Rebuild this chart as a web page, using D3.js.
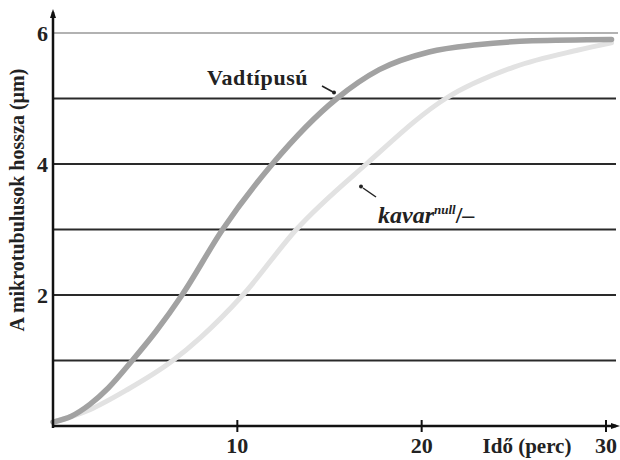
<!DOCTYPE html>
<html>
<head>
<meta charset="utf-8">
<script src="https://cdn.jsdelivr.net/npm/d3@7"></script>
<style>
  body { margin: 0; background: #fff; }
  svg { display: block; font-family: "Liberation Serif", "DejaVu Serif", serif; }
</style>
</head>
<body>
<svg id="chart" width="620" height="460"></svg>
<script>
// time (perc) and microtubule length (µm)
const wildTime  = [0, 1, 2, 3, 4.3, 5.6, 7, 9.2, 11.9, 15.4, 17.7, 20.4, 23, 26, 30.3];
const wildValue = [0.06, 0.15, 0.33, 0.58, 1.0, 1.45, 2.0, 3.0, 4.0, 5.0, 5.44, 5.71, 5.82, 5.88, 5.9];
const kavarTime  = [0, 2, 4, 6.5, 8, 10.3, 13.2, 17, 21.3, 25, 28.5, 30.3];
const kavarValue = [0.06, 0.25, 0.55, 1.0, 1.35, 2.0, 3.0, 4.0, 5.0, 5.48, 5.74, 5.85];
const gridValues = [1, 2, 3, 4, 5, 6];
const yTicks = [2, 4, 6];
const xTicks = [10, 20, 30];

const svg = d3.select('#chart');
const x0 = 53, x1 = 616, yBottom = 426;

const x = d3.scaleLinear().domain([0, 30]).range([x0, 606]);
const y = d3.scaleLinear().domain([0, 6]).range([yBottom, 33]);

// horizontal gridlines
svg.append('g').selectAll('line')
  .data(gridValues)
  .enter().append('line')
  .attr('x1', x0).attr('x2', d => d === 6 ? 618 : x1)
  .attr('y1', d => y(d)).attr('y2', d => y(d))
  .attr('stroke', d => d === 6 ? '#999' : '#2a2a2a')
  .attr('stroke-width', d => d === 6 ? 1.5 : 2);

const line = d3.line().curve(d3.curveMonotoneX);

// kavar null/- curve (light)
svg.append('path')
  .attr('d', line(kavarTime.map((t, i) => [x(t), y(kavarValue[i])])))
  .attr('fill', 'none')
  .attr('stroke', '#e2e2e2')
  .attr('stroke-width', 5)
  .attr('stroke-linecap', 'round');

// wild type curve (darker)
svg.append('path')
  .attr('d', line(wildTime.map((t, i) => [x(t), y(wildValue[i])])))
  .attr('fill', 'none')
  .attr('stroke', '#a2a2a2')
  .attr('stroke-width', 5.5)
  .attr('stroke-linecap', 'round');

// axes
svg.append('line')
  .attr('x1', x0).attr('x2', x0).attr('y1', 12).attr('y2', yBottom + 2)
  .attr('stroke', '#111').attr('stroke-width', 2.5);
svg.append('path')
  .attr('d', `M${x0 - 3},${18} L${x0},${9} L${x0 + 3},${18} Z`)
  .attr('fill', '#111');
svg.append('line')
  .attr('x1', x0 - 1).attr('x2', 616).attr('y1', yBottom).attr('y2', yBottom)
  .attr('stroke', '#111').attr('stroke-width', 2.5);
svg.append('path')
  .attr('d', `M${611},${yBottom - 3} L${620},${yBottom} L${611},${yBottom + 3} Z`)
  .attr('fill', '#111');

// x ticks
svg.append('g').selectAll('line')
  .data(xTicks)
  .enter().append('line')
  .attr('x1', d => x(d)).attr('x2', d => x(d))
  .attr('y1', yBottom - 6).attr('y2', yBottom + 6)
  .attr('stroke', '#111').attr('stroke-width', 2);

svg.append('g').selectAll('text')
  .data(xTicks)
  .enter().append('text')
  .attr('x', d => x(d)).attr('y', 453)
  .attr('text-anchor', 'middle')
  .attr('font-size', 22).attr('font-weight', 'bold').attr('fill', '#222')
  .text(d => d);

svg.append('text')
  .attr('x', 527).attr('y', 453)
  .attr('text-anchor', 'middle')
  .attr('font-size', 21).attr('font-weight', 'bold').attr('fill', '#222')
  .text('Idő (perc)');

// y tick labels
svg.append('g').selectAll('text')
  .data(yTicks)
  .enter().append('text')
  .attr('x', 48).attr('y', d => y(d) + 8)
  .attr('text-anchor', 'end')
  .attr('font-size', 22).attr('font-weight', 'bold').attr('fill', '#222')
  .text(d => d);

svg.append('text')
  .attr('transform', 'translate(24,200) rotate(-90)')
  .attr('text-anchor', 'middle')
  .attr('font-size', 20).attr('font-weight', 'bold').attr('fill', '#222')
  .text('A mikrotubulusok hossza (µm)');

// annotations
svg.append('text')
  .attr('x', 207).attr('y', 85)
  .attr('font-size', 22).attr('font-weight', 'bold').attr('fill', '#222')
  .attr('letter-spacing', 0.6)
  .text('Vadtípusú');
svg.append('line')
  .attr('x1', 322).attr('y1', 86).attr('x2', 333).attr('y2', 92)
  .attr('stroke', '#222').attr('stroke-width', 1.5);
svg.append('circle').attr('cx', 334).attr('cy', 92.5).attr('r', 2).attr('fill', '#222');

const kav = svg.append('text')
  .attr('x', 378).attr('y', 223)
  .attr('font-size', 24).attr('font-weight', 'bold').attr('font-style', 'italic').attr('fill', '#222');
kav.append('tspan').text('kavar');
kav.append('tspan').attr('dy', -9).attr('font-size', 13).text('null');
kav.append('tspan').attr('dy', 9).attr('font-style', 'normal').text('/–');
svg.append('line')
  .attr('x1', 376).attr('y1', 197).attr('x2', 363).attr('y2', 188)
  .attr('stroke', '#222').attr('stroke-width', 1.5);
svg.append('circle').attr('cx', 361).attr('cy', 186.5).attr('r', 2).attr('fill', '#222');
</script>
</body>
</html>
